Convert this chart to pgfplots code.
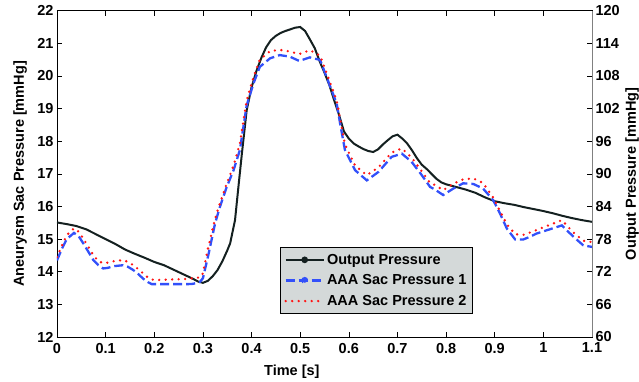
\documentclass[border=0pt]{standalone}
\usepackage{fontspec}
\setmainfont{Liberation Sans}
\usepackage{pgfplots}
\pgfplotsset{compat=1.18}
\definecolor{cblack}{RGB}{20,32,32}
\definecolor{cblue}{RGB}{50,80,250}
\definecolor{cred}{RGB}{255,20,20}
\definecolor{lgray}{RGB}{212,217,217}
\pgfplotsset{
  dotleg/.style={legend image code/.code={\draw[##1] (0bp,0bp)--(38bp,0bp); \fill[##1] (19bp,0bp) circle (2.3bp);}},
  lineleg/.style={legend image code/.code={\draw[##1] (0bp,0bp)--(38bp,0bp);}},
}
\begin{document}
\begin{tikzpicture}[font=\fontsize{14.5bp}{17bp}\selectfont\bfseries]
\begin{axis}[
  at={(0,0)}, anchor=south west,
  scale only axis, width=535bp, height=326.3bp,
  xmin=0, xmax=1.1, ymin=12, ymax=22,
  xtick={0,0.1,0.2,0.3,0.4,0.5,0.6,0.7,0.8,0.9,1,1.1},
  xticklabels={0,0.1,0.2,0.3,0.4,0.5,0.6,0.7,0.8,0.9,1,1.1},
  ytick={12,13,14,15,16,17,18,19,20,21,22},
  ytick pos=left, xtick pos=both,
  tick align=inside, major tick length=5bp,
  tick style={black, line width=0.6bp},
  axis line style={black, line width=0.8bp},
  /pgf/number format/assume math mode=true,
  xticklabel style={yshift=-2.5bp},
  xlabel={Time [s]}, ylabel={Aneurysm Sac Pressure [mmHg]},
  xlabel style={at={(axis description cs:0.439,-0.107)}, anchor=center},
  ylabel style={at={(axis description cs:-0.069,0.5)}, anchor=center},
  legend cell align=left,
  legend style={at={(rel axis cs:0.778,0.07)}, anchor=south east,
    fill=lgray, draw=black, line width=1.6bp, inner xsep=4bp, inner ysep=4.5bp,
    row sep=5bp, font=\fontsize{14.5bp}{17bp}\selectfont\bfseries},
]
\addplot[cblack, line width=2bp, dotleg]
coordinates {
(0.00,15.51)(0.02,15.46)(0.04,15.40)(0.06,15.30)(0.08,15.15)(0.10,15.00)
(0.12,14.85)(0.14,14.68)(0.16,14.55)(0.18,14.43)(0.20,14.30)(0.22,14.20)
(0.24,14.06)(0.26,13.92)(0.28,13.78)(0.29,13.70)(0.30,13.66)(0.31,13.72)
(0.32,13.86)(0.33,14.05)(0.34,14.32)(0.35,14.65)(0.356,14.87)(0.366,15.58)
(0.373,16.60)(0.38,17.60)(0.39,18.95)(0.40,19.65)(0.41,20.15)(0.42,20.55)
(0.43,20.88)(0.44,21.10)(0.45,21.23)(0.46,21.32)(0.47,21.38)(0.48,21.43)
(0.49,21.48)(0.50,21.50)(0.51,21.38)(0.52,21.12)(0.53,20.85)(0.54,20.45)
(0.55,20.10)(0.56,19.72)(0.57,19.25)(0.58,18.80)(0.59,18.30)(0.60,18.08)
(0.61,17.93)(0.62,17.84)(0.63,17.76)(0.64,17.70)(0.65,17.67)(0.66,17.75)
(0.67,17.90)(0.68,18.03)(0.69,18.15)(0.70,18.20)(0.71,18.08)(0.72,17.93)
(0.73,17.72)(0.74,17.48)(0.75,17.28)(0.76,17.15)(0.77,17.00)(0.78,16.85)
(0.79,16.74)(0.80,16.68)(0.82,16.60)(0.84,16.52)(0.86,16.42)(0.88,16.28)
(0.90,16.16)(0.92,16.10)(0.94,16.05)(0.96,15.98)(0.98,15.92)(1.00,15.86)
(1.02,15.79)(1.04,15.71)(1.06,15.64)(1.08,15.58)(1.10,15.53)
};
\addlegendentry{Output Pressure}
\addplot[cblue, line width=2.3bp, dash pattern=on 9bp off 4bp, dotleg]
coordinates {
(0.000,14.35)(0.010,14.70)(0.020,15.00)(0.035,15.19)(0.045,15.08)(0.054,14.87)
(0.065,14.60)(0.075,14.35)(0.085,14.20)(0.095,14.10)(0.105,14.12)(0.116,14.17)
(0.136,14.20)(0.146,14.15)(0.157,14.05)(0.167,13.93)(0.177,13.79)(0.187,13.68)
(0.195,13.62)(0.27,13.62)(0.28,13.63)(0.294,13.69)(0.30,13.80)(0.311,14.50)
(0.325,15.48)(0.335,15.99)(0.349,16.60)(0.363,17.11)(0.376,17.73)(0.39,19.10)
(0.404,19.77)(0.417,20.28)(0.438,20.54)(0.458,20.64)(0.479,20.59)(0.498,20.46)
(0.52,20.57)(0.541,20.49)(0.554,19.98)(0.575,19.16)(0.582,18.55)(0.592,17.73)
(0.613,17.11)(0.637,16.80)(0.661,17.06)(0.688,17.52)(0.709,17.62)(0.729,17.37)
(0.75,16.96)(0.767,16.60)(0.777,16.52)(0.794,16.35)(0.815,16.55)(0.835,16.71)
(0.856,16.69)(0.876,16.55)(0.897,16.19)(0.911,15.78)(0.925,15.32)(0.942,14.99)
(0.959,14.99)(0.972,15.07)(0.986,15.17)(1.038,15.42)(1.062,15.07)(1.082,14.81)
(1.10,14.76)
};
\addlegendentry{AAA Sac Pressure 1}
\addplot[cred, line width=2.6bp, line cap=round, dash pattern=on 0bp off 6.5bp, lineleg]
coordinates {
(0.000,14.45)(0.010,14.80)(0.020,15.12)(0.035,15.33)(0.045,15.22)(0.054,15.02)
(0.065,14.75)(0.075,14.50)(0.085,14.33)(0.095,14.26)(0.105,14.28)(0.116,14.32)
(0.136,14.36)(0.146,14.30)(0.157,14.20)(0.167,14.08)(0.177,13.95)(0.187,13.82)
(0.195,13.76)(0.21,13.75)(0.27,13.78)(0.285,13.82)(0.294,13.82)(0.30,13.95)
(0.311,14.75)(0.325,15.62)(0.335,16.10)(0.349,16.70)(0.363,17.25)(0.376,17.93)
(0.39,19.25)(0.404,19.97)(0.417,20.50)(0.438,20.76)(0.458,20.80)(0.479,20.75)
(0.498,20.67)(0.52,20.79)(0.541,20.62)(0.554,20.10)(0.575,19.25)(0.582,18.70)
(0.592,17.90)(0.613,17.25)(0.637,16.96)(0.661,17.20)(0.688,17.65)(0.709,17.78)
(0.729,17.50)(0.75,17.08)(0.767,16.72)(0.777,16.66)(0.794,16.50)(0.815,16.70)
(0.835,16.83)(0.856,16.86)(0.876,16.72)(0.897,16.27)(0.911,15.85)(0.925,15.45)
(0.942,15.15)(0.959,15.13)(0.972,15.20)(0.986,15.28)(1.038,15.58)(1.062,15.20)
(1.082,14.95)(1.10,14.91)
};
\addlegendentry{AAA Sac Pressure 2}
\draw[gray, line width=0.8bp] (rel axis cs:0,0)--(rel axis cs:1,0);
\end{axis}
\begin{axis}[
  at={(0,0)}, anchor=south west,
  scale only axis, width=535bp, height=326.3bp,
  xmin=0, xmax=1.1, ymin=60, ymax=120,
  axis x line=none, axis y line*=right,
  ytick={60,66,72,78,84,90,96,102,108,114,120},
  tick align=inside, major tick length=5bp,
  tick style={black, line width=0.6bp},
  axis line style={gray, line width=0.8bp, -},
  /pgf/number format/assume math mode=true,
  ylabel={Output Pressure [mmHg]},
  ylabel style={at={(axis description cs:1.075,0.5)}, anchor=center},
]
\end{axis}
\pgfresetboundingbox
\useasboundingbox (-57bp,-45bp) rectangle (582bp,337bp);
\end{tikzpicture}
\end{document}
